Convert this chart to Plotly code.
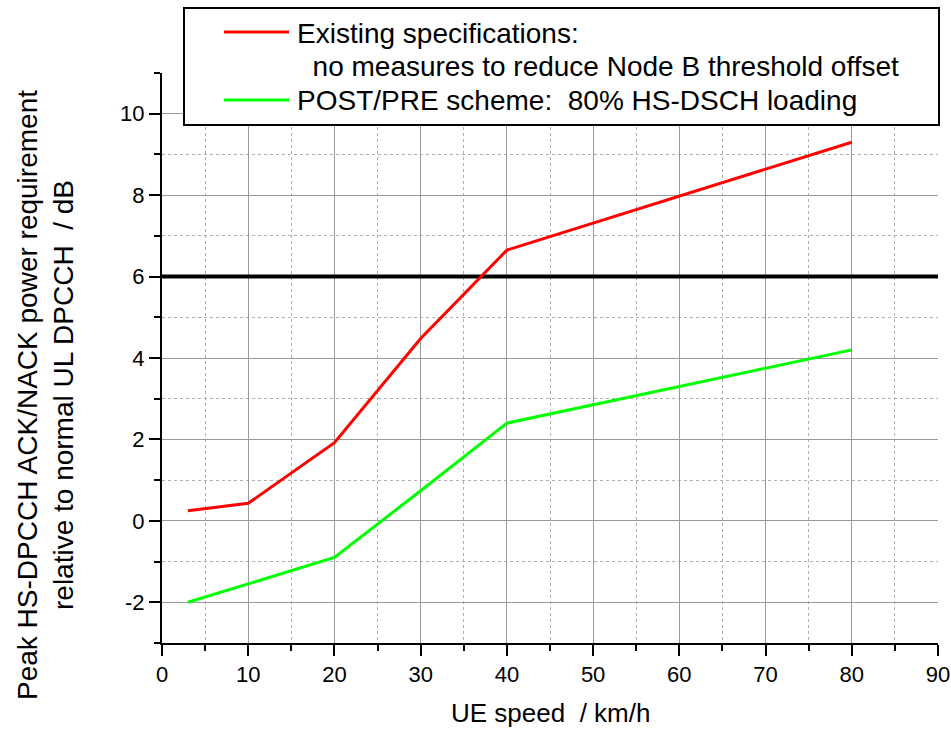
import plotly.graph_objects as go

# ---- data ----
speed_existing = [3, 10, 20, 30, 40, 80]
power_existing = [0.25, 0.43, 1.92, 4.48, 6.65, 9.3]
speed_postpre = [3, 10, 20, 30, 40, 80]
power_postpre = [-2.0, -1.54, -0.9, 0.74, 2.4, 4.2]
threshold_x = [0, 90]
threshold_y = [6, 6]
y_tick_values = [-2, 0, 2, 4, 6, 8, 10]
y_tick_labels = ["-2", "0", "2", "4", "6", "8", "10"]

name_existing_1 = "Existing specifications:"
name_existing_2 = "  no measures to reduce Node B threshold offset"
name_postpre = "POST/PRE scheme:  80% HS-DSCH loading"

W, H = 951, 731
L, T = 162, 73
R = W - 938
B = H - 643
PW, PH = W - L - R, H - T - B

def px(x):
    return (x - L) / PW

def py(y):
    return (H - B - y) / PH

FONT = "Liberation Sans, Arial, sans-serif"

fig = go.Figure()
fig.add_trace(go.Scatter(x=threshold_x, y=threshold_y, mode="lines",
                         line=dict(color="black", width=4), showlegend=False, hoverinfo="skip"))
fig.add_trace(go.Scatter(x=speed_existing, y=power_existing, mode="lines",
                         line=dict(color="#ff0000", width=3), name=name_existing_1, showlegend=False))
fig.add_trace(go.Scatter(x=speed_postpre, y=power_postpre, mode="lines",
                         line=dict(color="#00ff00", width=3), name=name_postpre, showlegend=False))

axis_common = dict(
    showline=True, linecolor="black", linewidth=2,
    ticks="outside", ticklen=11, tickwidth=2, tickcolor="black",
    showgrid=True, gridcolor="#999999", gridwidth=1,
    zeroline=False, automargin=False,
    tickfont=dict(family=FONT, size=22, color="black"),
)

fig.update_xaxes(range=[0, 90], dtick=10, tick0=0,
                 minor=dict(dtick=5, ticklen=6, tickwidth=2, tickcolor="black", ticks="outside",
                            showgrid=True, gridcolor="#b0b0b0", griddash="dot", gridwidth=1),
                 **axis_common)
fig.update_yaxes(range=[-3, 11], tickmode="array", tickvals=y_tick_values, ticktext=y_tick_labels,
                 minor=dict(dtick=1, tick0=0, ticklen=6, tickwidth=2, tickcolor="black", ticks="outside",
                            showgrid=True, gridcolor="#b0b0b0", griddash="dot", gridwidth=1),
                 **axis_common)

shapes = [
    dict(type="rect", xref="paper", yref="paper",
         x0=px(184), x1=px(939), y0=py(125), y1=py(8),
         line=dict(color="black", width=2), fillcolor="white", layer="above"),
    dict(type="line", xref="paper", yref="paper",
         x0=px(224), x1=px(289), y0=py(32), y1=py(32),
         line=dict(color="#ff0000", width=3), layer="above"),
    dict(type="line", xref="paper", yref="paper",
         x0=px(224), x1=px(289), y0=py(100), y1=py(100),
         line=dict(color="#00ff00", width=3), layer="above"),
]

legend_font = dict(family=FONT, size=28, color="black")
annotations = [
    dict(text=name_existing_1, xref="paper", yref="paper", x=px(295), y=py(33),
         xanchor="left", yanchor="middle", showarrow=False, font=legend_font),
    dict(text=name_existing_2.replace(" ", "&nbsp;"), xref="paper", yref="paper", x=px(295), y=py(67),
         xanchor="left", yanchor="middle", showarrow=False, font=legend_font),
    dict(text=name_postpre.replace("  ", "&nbsp;&nbsp;"), xref="paper", yref="paper", x=px(295), y=py(100),
         xanchor="left", yanchor="middle", showarrow=False, font=legend_font),
    dict(text="UE speed &nbsp;/ km/h", xref="paper", yref="paper", x=0.5, y=py(713),
         xanchor="center", yanchor="middle", showarrow=False,
         font=dict(family=FONT, size=26, color="black")),
    dict(text="Peak HS-DPCCH ACK/NACK power requirement<br>relative to normal UL DPCCH &nbsp;/ dB",
         xref="paper", yref="paper", x=px(45), y=py(395), textangle=-90,
         xanchor="center", yanchor="middle", showarrow=False,
         font=dict(family=FONT, size=28, color="black")),
]

fig.update_layout(
    width=W, height=H,
    margin=dict(l=L, r=R, t=T, b=B),
    paper_bgcolor="white", plot_bgcolor="white",
    shapes=shapes, annotations=annotations,
    showlegend=False,
)

fig.write_html("out.html", config={"displayModeBar": False},
               post_script="document.body.style.margin='0';document.body.style.overflow='hidden';")
